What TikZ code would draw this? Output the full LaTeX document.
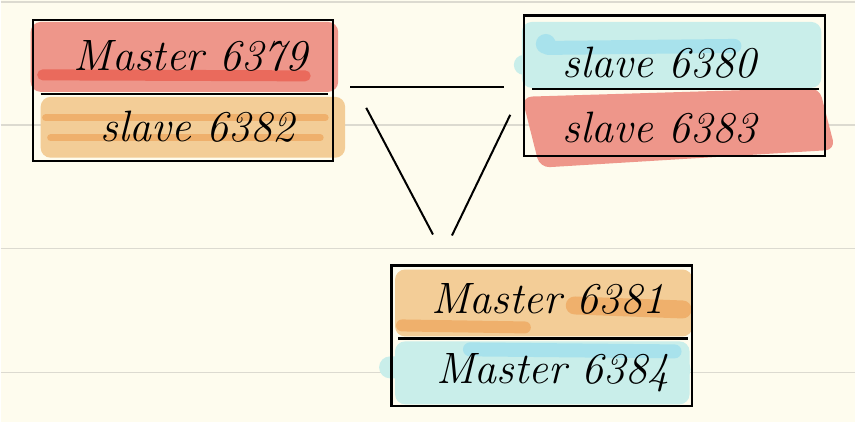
\documentclass[tikz,border=0pt]{standalone}
\usepackage{xcolor}
\usepackage{tikz}
\usetikzlibrary{positioning, arrows.meta}
\definecolor{papel}{HTML}{FEFCEE}
\definecolor{raya}{HTML}{DCDAD0}
\definecolor{rojomarca}{HTML}{EE968A}
\definecolor{rojofuerte}{HTML}{EA6A5C}
\definecolor{naranjamarca}{HTML}{F3CD97}
\definecolor{naranjafuerte}{HTML}{EFB06C}
\definecolor{azulmarca}{HTML}{C9EEEA}
\definecolor{azulfuerte}{HTML}{A8E2EC}

\begin{document}
\begin{tikzpicture}[
    x=1pt, y=-1pt,
    every node/.style={font=\fontsize{44}{48}\selectfont\itshape},
    caja/.style={draw=black, line width=2.2pt, minimum width=301pt, minimum height=141pt, inner sep=0pt},
    linea/.style={black, line width=2.2pt},
    enlace/.style={black, line width=2pt}
]
% papel rayado
\fill[papel] (0,0) rectangle (856,423);
\foreach \y in {2,125,249,373} {
    \draw[raya, line width=1.5pt] (0,\y) -- (856,\y);
}

% marcador caja izquierda
\fill[rojomarca, rounded corners=10pt] (30,22) rectangle (338,92);
\draw[rojofuerte, line width=11pt, line cap=round] (42,75) -- (305,76);
\fill[naranjamarca, rounded corners=10pt] (40,97) rectangle (345,158);
\draw[naranjafuerte, line width=7pt, line cap=round] (45,118) -- (325,118);
\draw[naranjafuerte, line width=7pt, line cap=round] (50,138) -- (320,138);

% marcador caja derecha
\fill[azulmarca, rounded corners=10pt] (522,22) rectangle (822,88);
\draw[azulfuerte, line width=14pt, line cap=round] (548,48) -- (735,46);
\fill[azulfuerte] (546,44) circle (10);
\fill[azulmarca] (524,65) circle (10);
\fill[rojomarca, rounded corners=10pt] (522,97) -- (820,88) -- (836,150) -- (540,168) -- cycle;

% marcador caja inferior
\fill[naranjamarca, rounded corners=10pt] (395,270) rectangle (693,337);
\draw[naranjafuerte, line width=18pt, line cap=round] (575,306) -- (683,310);
\draw[naranjafuerte, line width=12pt, line cap=round] (402,326) -- (525,328);
\fill[azulmarca, rounded corners=10pt] (395,342) rectangle (690,405);
\draw[azulmarca, line width=22pt, line cap=round] (390,368) -- (680,370);
\draw[azulfuerte, line width=14pt, line cap=round] (470,350) -- (675,352);

% cajas
\node[caja] (maestro1) at (182.5,90.5) {};
\node[caja] (maestro2) at (675,86) {};
\node[caja] (maestro3) at (542,336.5) {};
\draw[linea] (40,94) -- (328,94);
\draw[linea] (532,89) -- (820,89);
\draw[linea] (398,339) -- (688,339);

% textos
\node (t1) at (190,56) {Master 6379};
\node (t2) at (197,127) {slave 6382};
\node (t3) at (660,63) {slave 6380};
\node (t4) at (660,128) {slave 6383};
\node (t5) at (548,299) {Master 6381};
\node (t6) at (553,373) {Master 6384};

% enlaces
\draw[enlace] ([xshift=16pt,yshift=3.5pt]maestro1.east) -- ([xshift=-19pt,yshift=-1pt]maestro2.west);
\draw[enlace] ([xshift=32pt,yshift=-17.5pt]maestro1.east) -- ([xshift=-109pt,yshift=30pt]maestro3.north);
\draw[enlace] ([xshift=-13pt,yshift=-29pt]maestro2.west) -- ([xshift=-90pt,yshift=29pt]maestro3.north);
\end{tikzpicture}
\end{document}
